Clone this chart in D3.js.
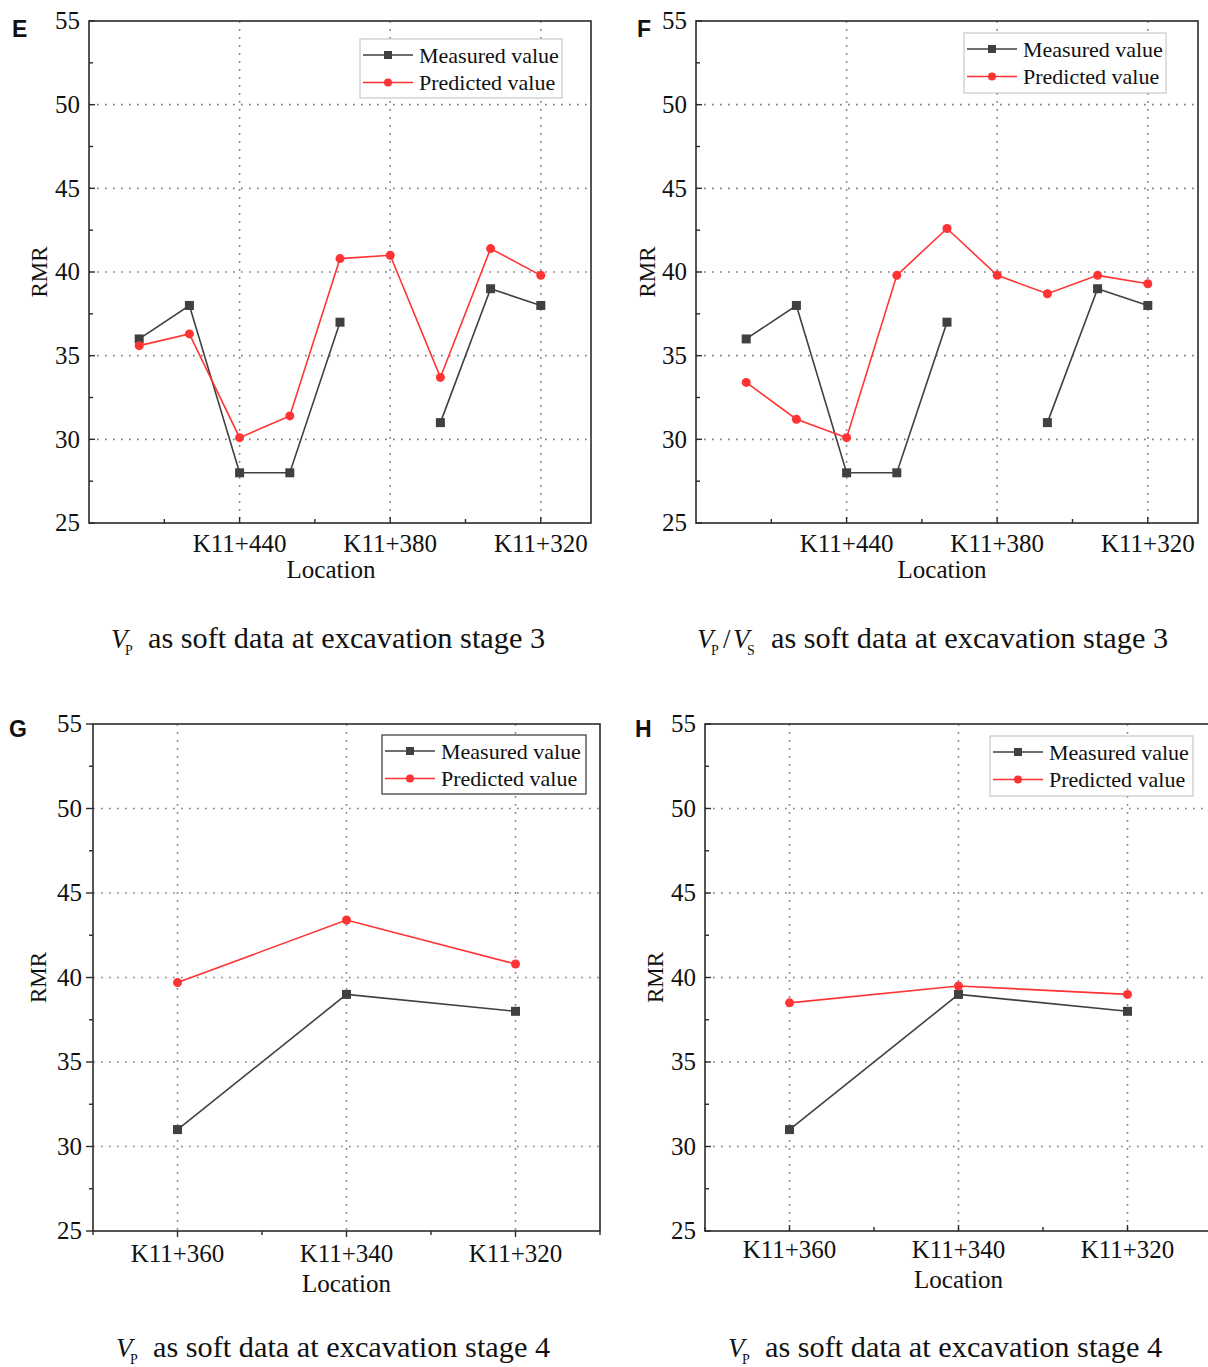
<!DOCTYPE html>
<html>
<head>
<meta charset="utf-8">
<script src="https://cdn.jsdelivr.net/npm/d3@7"></script>
<style>
  body { margin: 0; background: #fff; }
  text { font-family: 'Liberation Serif', 'Times New Roman', serif; fill: #111; }
</style>
</head>
<body>
<svg id="chart" width="1208" height="1367"></svg>
<script>
// datos
const locationsStage3 = ['K11+480', 'K11+460', 'K11+440', 'K11+420', 'K11+400', 'K11+380', 'K11+360', 'K11+340', 'K11+320']
const labeledStage3 = ['K11+440', 'K11+380', 'K11+320']
const measuredStage3 = [36, 38, 28, 28, 37, null, 31, 39, 38]
const predictedE = [35.6, 36.3, 30.1, 31.4, 40.8, 41.0, 33.7, 41.4, 39.8]
const predictedF = [33.4, 31.2, 30.1, 39.8, 42.6, 39.8, 38.7, 39.8, 39.3]

const locationsStage4 = ['K11+360', 'K11+340', 'K11+320']
const measuredStage4 = [31, 39, 38]
const predictedG = [39.7, 43.4, 40.8]
const predictedH = [38.5, 39.5, 39.0]

const yTicks = [25, 30, 35, 40, 45, 50, 55]
const yMinorTicks = [27.5, 32.5, 37.5, 42.5, 47.5, 52.5]
const seriesNames = ['Measured value', 'Predicted value']

const svg = d3.select('#chart')
const measuredColor = '#404040'
const predictedColor = '#ff3333'
const gridColor = '#808080'

const panels = [
  { letter: 'E', stage: 3, locs: locationsStage3, labels: labeledStage3, measured: measuredStage3, predicted: predictedE,
    l: 89, t: 21, r: 591, b: 523, pad: 1, tickOut: false, labelGap: 9,
    legend: { x: 360, y: 39, w: 202, h: 59, stroke: '#c8c8c8' }, letterPos: [12, 37], rmrX: 47,
    xLabelDy: 29, locDy: 55, locShift: -9, cap: { x: 111, y: 648, ratio: false } },
  { letter: 'F', stage: 3, locs: locationsStage3, labels: labeledStage3, measured: measuredStage3, predicted: predictedF,
    l: 696, t: 21, r: 1198, b: 523, pad: 1, tickOut: false, labelGap: 9,
    legend: { x: 964, y: 33, w: 202, h: 60, stroke: '#c8c8c8' }, letterPos: [637, 37], rmrX: 655,
    xLabelDy: 29, locDy: 55, locShift: -5, cap: { x: 697, y: 648, ratio: true } },
  { letter: 'G', stage: 4, locs: locationsStage4, labels: locationsStage4, measured: measuredStage4, predicted: predictedG,
    l: 93, t: 724, r: 600, b: 1231, pad: 0.5, tickOut: true, labelGap: 11,
    legend: { x: 382, y: 735, w: 204, h: 59, stroke: '#333' }, letterPos: [9, 737], rmrX: 46,
    xLabelDy: 31, locDy: 61, locShift: 0, cap: { x: 116, y: 1357, ratio: false } },
  { letter: 'H', stage: 4, locs: locationsStage4, labels: locationsStage4, measured: measuredStage4, predicted: predictedH,
    l: 705, t: 724, r: 1212, b: 1231, pad: 0.5, tickOut: false, labelGap: 9,
    legend: { x: 990, y: 736, w: 203, h: 60, stroke: '#c8c8c8' }, letterPos: [635, 737], rmrX: 663,
    xLabelDy: 27, locDy: 57, locShift: 0, cap: { x: 728, y: 1357, ratio: false } }
]

const drawPanel = (p) => {
  const g = svg.append('g')

  const x = d3.scalePoint()
    .domain(p.locs)
    .range([p.l, p.r])
    .padding(p.pad)
  const y = d3.scaleLinear()
    .domain([25, 55])
    .range([p.b, p.t])

  // grid punteada
  g.selectAll('.hgrid').data(yTicks.filter(d => d > 25 && d < 55))
    .enter().append('line')
      .attr('x1', p.l).attr('x2', p.r)
      .attr('y1', d => y(d)).attr('y2', d => y(d))
      .attr('stroke', gridColor).attr('stroke-width', 1.6)
      .attr('stroke-dasharray', '1.7,6.3')
  g.selectAll('.vgrid').data(p.labels)
    .enter().append('line')
      .attr('x1', d => x(d)).attr('x2', d => x(d))
      .attr('y1', p.t).attr('y2', p.b)
      .attr('stroke', gridColor).attr('stroke-width', 1.6)
      .attr('stroke-dasharray', '1.7,6.3')

  // marco
  g.append('rect')
    .attr('x', p.l).attr('y', p.t)
    .attr('width', p.r - p.l).attr('height', p.b - p.t)
    .attr('fill', 'none').attr('stroke', '#2a2a2a').attr('stroke-width', 1.6)

  // ticks del eje y
  const dir = p.tickOut ? -1 : 1
  g.selectAll('.ytick').data(yTicks)
    .enter().append('line')
      .attr('x1', p.l).attr('x2', p.l + (p.tickOut ? -7 : 6))
      .attr('y1', d => y(d)).attr('y2', d => y(d))
      .attr('stroke', '#2a2a2a').attr('stroke-width', 1.4)
  g.selectAll('.yminor').data(yMinorTicks)
    .enter().append('line')
      .attr('x1', p.l).attr('x2', p.l + 4 * dir)
      .attr('y1', d => y(d)).attr('y2', d => y(d))
      .attr('stroke', '#2a2a2a').attr('stroke-width', 1.4)
  g.selectAll('.ylabel').data(yTicks)
    .enter().append('text')
      .attr('x', p.l - p.labelGap)
      .attr('y', d => y(d))
      .attr('dy', '0.33em')
      .attr('text-anchor', 'end')
      .attr('font-size', 25)
      .text(d => d)

  // ticks del eje x
  const step = x.step()
  const minors = p.pad === 1
    ? p.labels.map(d => x(d) - 1.5 * step)
    : [p.l].concat(p.locs.map(d => x(d) + step / 2))
  g.selectAll('.xtick').data(p.labels)
    .enter().append('line')
      .attr('x1', d => x(d)).attr('x2', d => x(d))
      .attr('y1', p.b).attr('y2', p.b - 6 * dir)
      .attr('stroke', '#2a2a2a').attr('stroke-width', 1.4)
  g.selectAll('.xminor').data(minors)
    .enter().append('line')
      .attr('x1', d => d).attr('x2', d => d)
      .attr('y1', p.b).attr('y2', p.b - 4 * dir)
      .attr('stroke', '#2a2a2a').attr('stroke-width', 1.4)
  g.selectAll('.xlabel').data(p.labels)
    .enter().append('text')
      .attr('x', d => x(d))
      .attr('y', p.b + p.xLabelDy)
      .attr('text-anchor', 'middle')
      .attr('font-size', 25)
      .text(d => d)

  g.append('text')
    .attr('x', (p.l + Math.min(p.r, 1208 + (p.r - 1208))) / 2 + p.locShift - (p.r > 1208 ? 0 : 0))
    .attr('y', p.b + p.locDy)
    .attr('text-anchor', 'middle')
    .attr('font-size', 25)
    .text('Location')

  g.append('text')
    .attr('transform', `translate(${p.rmrX}, ${(p.t + p.b) / 2}) rotate(-90)`)
    .attr('text-anchor', 'middle')
    .attr('font-size', 23)
    .text('RMR')

  g.append('text')
    .attr('x', p.letterPos[0]).attr('y', p.letterPos[1])
    .attr('font-weight', 'bold')
    .attr('font-size', 23)
    .style('font-family', "'Liberation Sans', Arial, sans-serif")
    .text(p.letter)

  // lineas
  const line = d3.line()
    .defined(d => d[1] !== null)
    .x(d => x(d[0]))
    .y(d => y(d[1]))
  const mData = p.locs.map((loc, i) => [loc, p.measured[i]])
  const pData = p.locs.map((loc, i) => [loc, p.predicted[i]])

  g.append('path').datum(mData)
    .attr('d', line).attr('fill', 'none')
    .attr('stroke', measuredColor).attr('stroke-width', 1.6)
  g.append('path').datum(pData)
    .attr('d', line).attr('fill', 'none')
    .attr('stroke', predictedColor).attr('stroke-width', 1.6)

  g.selectAll('.msq').data(mData.filter(d => d[1] !== null))
    .enter().append('rect')
      .attr('x', d => x(d[0]) - 4.5).attr('y', d => y(d[1]) - 4.5)
      .attr('width', 9).attr('height', 9)
      .attr('fill', measuredColor)
  g.selectAll('.pdot').data(pData)
    .enter().append('circle')
      .attr('cx', d => x(d[0])).attr('cy', d => y(d[1]))
      .attr('r', 4.5)
      .attr('fill', predictedColor)

  // leyenda
  const lg = g.append('g').attr('transform', `translate(${p.legend.x}, ${p.legend.y})`)
  lg.append('rect')
    .attr('width', p.legend.w).attr('height', p.legend.h)
    .attr('fill', '#fff').attr('stroke', p.legend.stroke).attr('stroke-width', 1.2)
  seriesNames.forEach((name, i) => {
    const cy = 16 + i * 27.5
    const col = i === 0 ? measuredColor : predictedColor
    lg.append('line')
      .attr('x1', 3).attr('x2', 53).attr('y1', cy).attr('y2', cy)
      .attr('stroke', col).attr('stroke-width', 1.6)
    if (i === 0) {
      lg.append('rect').attr('x', 24).attr('y', cy - 4).attr('width', 8).attr('height', 8).attr('fill', col)
    } else {
      lg.append('circle').attr('cx', 28).attr('cy', cy).attr('r', 4).attr('fill', col)
    }
    lg.append('text')
      .attr('x', 59).attr('y', cy + 7.5)
      .attr('font-size', 22)
      .text(name)
  })

  // pie de figura
  const cap = g.append('g').attr('transform', `translate(${p.cap.x}, ${p.cap.y})`)
  const sub = (xx, letter, sLetter) => {
    cap.append('text').attr('x', xx).attr('y', 0).attr('font-size', 27).attr('font-style', 'italic').text(letter)
    cap.append('text').attr('x', xx + 14).attr('y', 7).attr('font-size', 14).text(sLetter)
  }
  sub(0, 'V', 'P')
  let restX = 37
  if (p.cap.ratio) {
    cap.append('text').attr('x', 26).attr('y', 0).attr('font-size', 27).text('/')
    sub(36, 'V', 'S')
    restX = 74
  }
  cap.append('text')
    .attr('x', restX).attr('y', 0)
    .attr('font-size', 30.3)
    .text(`as soft data at excavation stage ${p.stage}`)
}

panels.forEach(drawPanel)
</script>
</body>
</html>
